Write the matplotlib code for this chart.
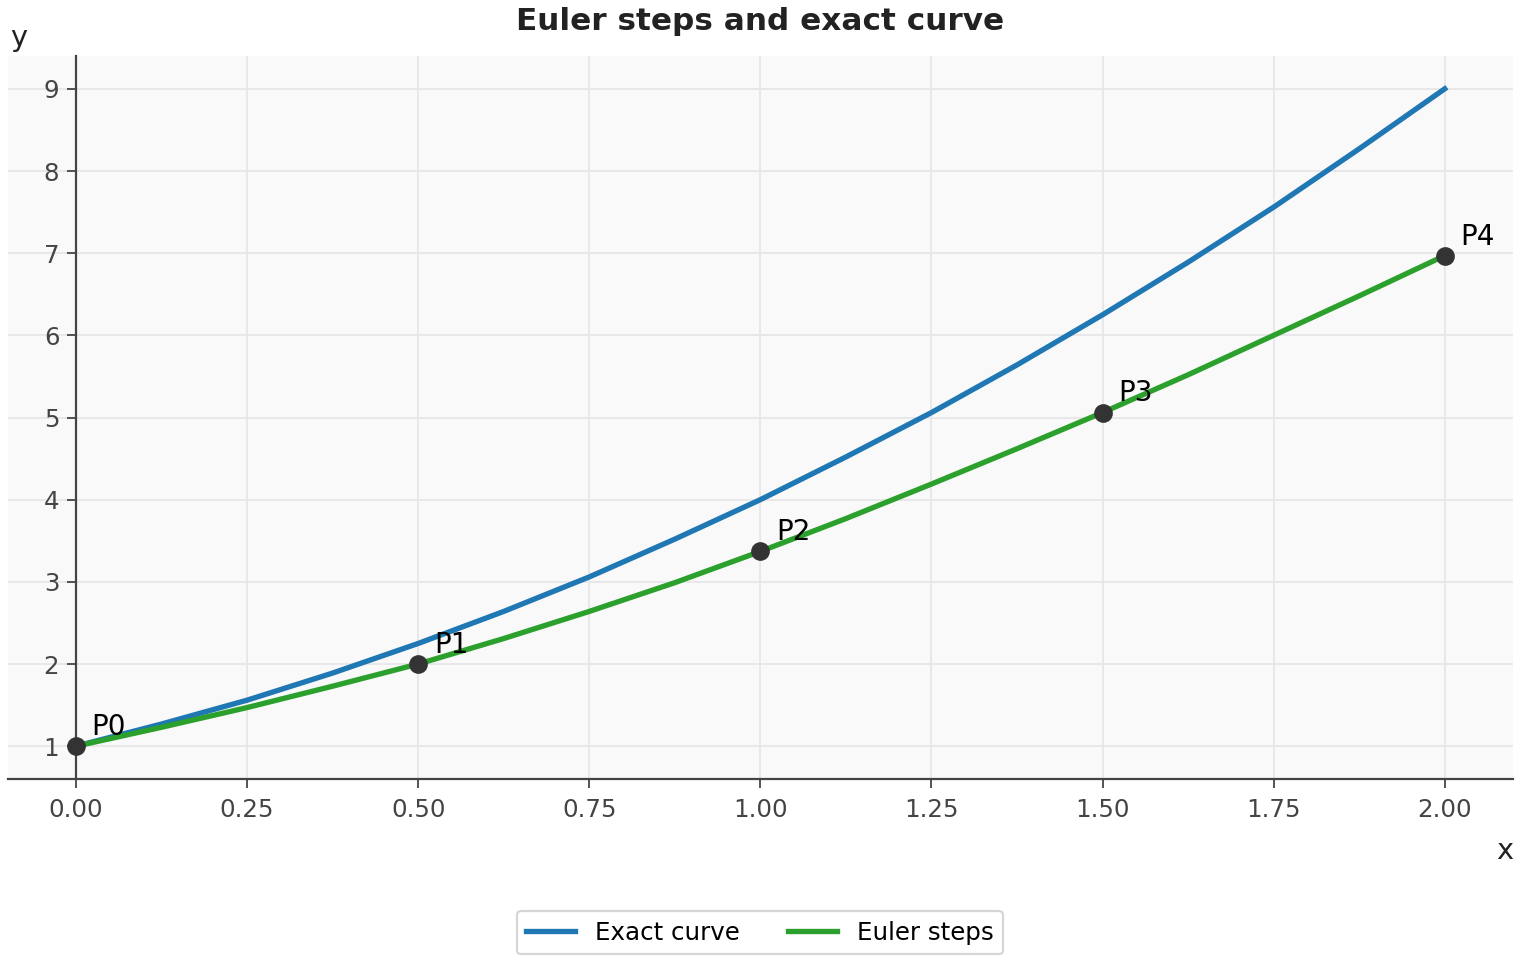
import matplotlib
matplotlib.use("Agg")
import matplotlib.pyplot as plt

# exact curve
x_exact = [0.0, 0.125, 0.25, 0.375, 0.5, 0.625, 0.75, 0.875, 1.0,
           1.125, 1.25, 1.375, 1.5, 1.625, 1.75, 1.875, 2.0]
y_exact = [1.0, 1.27, 1.56, 1.89, 2.25, 2.64, 3.06, 3.52, 4.0,
           4.52, 5.06, 5.64, 6.25, 6.89, 7.56, 8.27, 9.0]

# euler line (drawn smooth in the original)
x_euler = [0.0, 0.125, 0.25, 0.375, 0.5, 0.625, 0.75, 0.875, 1.0,
           1.125, 1.25, 1.375, 1.5, 1.625, 1.75, 1.875, 2.0]
y_euler = [1.0, 1.23, 1.47, 1.73, 2.0, 2.31, 2.64, 2.99, 3.37,
           3.77, 4.19, 4.62, 5.06, 5.52, 6.0, 6.48, 6.97]

# euler points
px = [0.0, 0.5, 1.0, 1.5, 2.0]
py = [1.0, 2.0, 3.37, 5.06, 6.97]
plabels = ["P0", "P1", "P2", "P3", "P4"]


def main():
    fig = plt.figure(figsize=(9.5, 6), dpi=160)
    ax = fig.add_axes([0.005, 0.1885, 0.9905, 0.7532])
    ax.set_facecolor("#f9f9f9")

    ax.plot(x_exact, y_exact, color="#1f77b4", lw=2.4, label="Exact curve", zorder=3)
    ax.plot(x_euler, y_euler, color="#2ca02c", lw=2.4, label="Euler steps", zorder=3)
    ax.scatter(px, py, s=55, color="#333333", zorder=4)
    for xx, yy, t in zip(px, py, plabels):
        ax.annotate(t, (xx, yy), xytext=(7, 5), textcoords="offset points",
                    fontsize=12.5, color="black")

    ax.set_xlim(-0.1, 2.1)
    ax.set_ylim(0.6, 9.4)
    ax.set_xticks([0, 0.25, 0.5, 0.75, 1.0, 1.25, 1.5, 1.75, 2.0])
    ax.set_yticks(range(1, 10))
    ax.grid(True, color="#e6e6ea", lw=0.8)
    ax.set_axisbelow(True)

    ax.spines["top"].set_visible(False)
    ax.spines["right"].set_visible(False)
    ax.spines["left"].set_position(("data", 0))
    for s in ("left", "bottom"):
        ax.spines[s].set_color("#444444")
        ax.spines[s].set_linewidth(1.0)
    ax.tick_params(colors="#444444", labelsize=11, length=4)
    ax.tick_params(axis="x", pad=4.5)

    ax.text(1.0, -0.08, "x", transform=ax.transAxes, ha="right", va="top",
            fontsize=13, color="#222222")
    ax.text(0.002, 1.005, "y", transform=ax.transAxes, ha="left", va="bottom",
            fontsize=13, color="#222222")

    fig.suptitle("Euler steps and exact curve", fontsize=14, fontweight="bold",
                 color="#222222", y=0.993)

    fig.legend(loc="lower center", bbox_to_anchor=(0.5, -0.007), ncol=2,
               fontsize=11, frameon=True, edgecolor="#cccccc", columnspacing=2.0)

    fig.savefig("out.png", dpi=160)


if __name__ == '__main__':
    main()
